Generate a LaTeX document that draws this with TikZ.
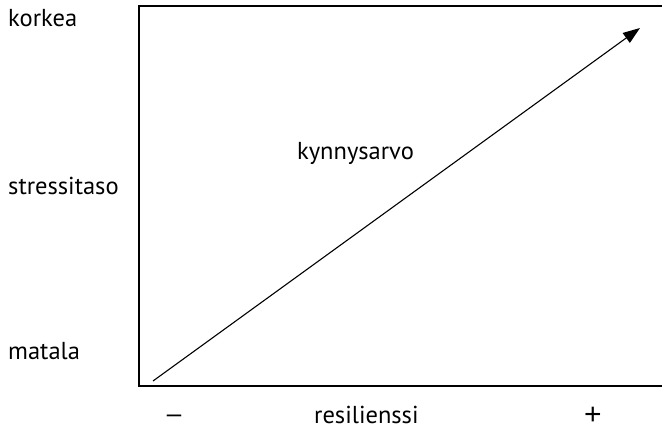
\documentclass[tikz,border=0pt]{standalone}
\usepackage{fontspec}
\setmainfont{PT Sans}
\newfontfamily\symfont{Liberation Sans}
\usetikzlibrary{arrows.meta}
\begin{document}
\begin{tikzpicture}[x=1pt,y=-1pt,
  txt/.style={inner sep=0pt,font=\fontsize{24.5}{28}\selectfont},
  lbl/.style={txt,anchor=base west},
  sym/.style={inner sep=0pt,anchor=base,font=\symfont\fontsize{26}{30}\selectfont},
  frame/.style={line width=1.5pt},
  arr/.style={line width=1.1pt,-{Triangle[length=17pt,width=12pt]}}]
\useasboundingbox (0,0) rectangle (662,430);
\coordinate (tr) at (663,6);
\coordinate (tl) at (139,6);
\coordinate (bl) at (139,386);
\coordinate (br) at (663,386);
\draw[frame] (tr) -- (tl) -- (bl) -- (br);
\coordinate (s) at (153,381);
\coordinate (e) at (640,28);
\draw[arr] (s) -- (e);
\node[lbl] (korkea) at (8,27) {korkea};
\node[lbl] (stress) at (8,195) {stressitaso};
\node[lbl] (matala) at (8,360) {matala};
\node[lbl] (kyn) at (297,160) {kynnysarvo};
\node[lbl] (res) at (314,424) {resilienssi};
\node[sym] (minus) at (174,423) {–};
\node[sym,font=\symfont\fontsize{30}{34}\selectfont] (plus) at (593,425) {+};
\end{tikzpicture}
\end{document}
